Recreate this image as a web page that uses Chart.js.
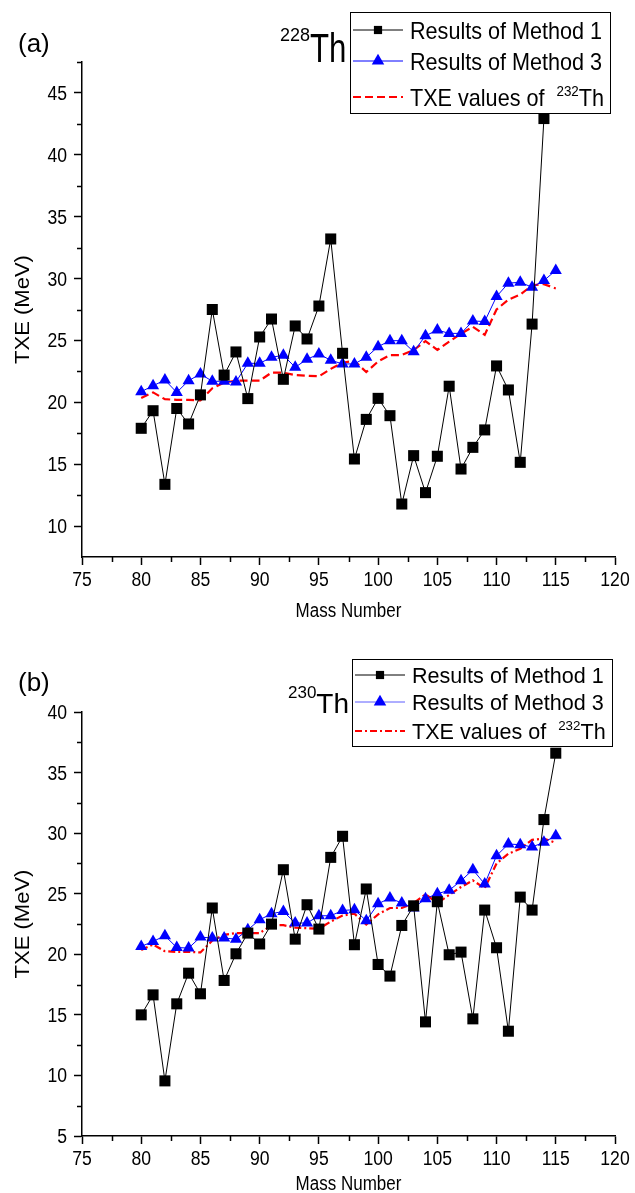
<!DOCTYPE html>
<html>
<head>
<meta charset="utf-8">
<script src="https://cdn.jsdelivr.net/npm/chart.js@4.4.1/dist/chart.umd.min.js"></script>
<style>
  html, body { margin: 0; padding: 0; background: #fff; }
  canvas { display: block; }
</style>
</head>
<body>
<canvas id="chartA" width="635" height="630"></canvas>
<canvas id="chartB" width="635" height="563"></canvas>
<script>
// Mass numbers (x values)
const massA1 = [80, 81, 82, 83, 84, 85, 86, 87, 88, 89, 90, 91, 92, 93, 94, 95, 96, 97,
  98, 99, 100, 101, 102, 103, 104, 105, 106, 107, 108, 109, 110, 111, 112, 113, 114];
const massAll = [80, 81, 82, 83, 84, 85, 86, 87, 88, 89, 90, 91, 92, 93, 94, 95, 96, 97,
  98, 99, 100, 101, 102, 103, 104, 105, 106, 107, 108, 109, 110, 111, 112, 113, 114, 115];

// (a) 228Th
const txeA_method1 = [17.9, 19.32, 13.37, 19.5, 18.25, 20.6, 27.5, 22.2, 24.07, 20.3, 25.28, 26.73,
  21.86, 26.17, 25.12, 27.78, 33.2, 23.96, 15.42, 18.62, 20.32, 18.92, 11.78, 15.69, 12.7, 15.64,
  21.3, 14.61, 16.36, 17.77, 22.94, 21.0, 15.15, 26.32, 42.93];
const txeA_method3 = [20.86, 21.34, 21.8, 20.8, 21.75, 22.29, 21.7, 21.7, 21.65, 23.15, 23.15, 23.64,
  23.8, 22.83, 23.48, 23.9, 23.4, 23.1, 23.1, 23.64, 24.5, 24.98, 24.98, 24.09, 25.38, 25.84,
  25.57, 25.57, 26.57, 26.53, 28.55, 29.63, 29.7, 29.3, 29.84, 30.66];

// (b) 230Th
const txeB_method1 = [15.0, 16.65, 9.55, 15.91, 18.44, 16.74, 23.82, 17.84, 20.04, 21.75, 20.85, 22.49,
  26.98, 21.25, 24.09, 22.08, 28.0, 29.74, 20.79, 25.39, 19.16, 18.2, 22.38, 24.0, 14.42, 24.34,
  19.96, 20.18, 14.67, 23.65, 20.54, 13.65, 24.72, 23.65, 31.12, 36.6];
const txeB_method3 = [20.65, 21.06, 21.53, 20.56, 20.51, 21.42, 21.34, 21.34, 21.25, 22.02, 22.85, 23.35,
  23.54, 22.58, 22.58, 23.18, 23.18, 23.62, 23.68, 22.77, 24.17, 24.64, 24.23, 23.82, 24.59, 25.0,
  25.28, 26.07, 26.98, 25.8, 28.14, 29.1, 29.05, 28.86, 29.24, 29.79];

// TXE of 232Th (reference curve, same in both panels)
const txe232 = [20.35, 20.8, 20.25, 20.2, 20.2, 20.15, 21.13, 21.6, 21.75, 21.75, 21.75, 22.4,
  22.4, 22.2, 22.15, 22.1, 22.7, 23.2, 23.35, 22.45, 23.3, 23.82, 23.82, 24.23, 24.95, 24.23,
  24.9, 25.55, 26.1, 25.45, 27.5, 28.3, 28.7, 29.45, 29.55, 29.2];

// tick values
const xMajor = [75, 80, 85, 90, 95, 100, 105, 110, 115, 120];
const xMinor = [77.5, 82.5, 87.5, 92.5, 97.5, 102.5, 107.5, 112.5, 117.5];
const yMajorA = [10, 15, 20, 25, 30, 35, 40, 45];
const yMinorA = [12.5, 17.5, 22.5, 27.5, 32.5, 37.5, 42.5, 47.5];
const yMajorB = [5, 10, 15, 20, 25, 30, 35, 40];
const yMinorB = [7.5, 12.5, 17.5, 22.5, 27.5, 32.5, 37.5];

const seriesLabels = ['Results of Method 1', 'Results of Method 3', 'TXE values of 232Th'];
const xTitle = 'Mass Number';
const yTitle = 'TXE (MeV)';

const FONT = "'Liberation Sans', Arial, sans-serif";

const toPoints = (xs, ys) => ys.map((y, i) => ({ x: xs[i], y: y }));

// text pieces: {t, size, rise, sx}; drawn left to right from x on baseline y
function drawRich(ctx, parts, x, y) {
  let cx = x;
  parts.forEach(p => {
    ctx.save();
    ctx.font = p.size + 'px ' + FONT;
    const sx = p.sx || 1;
    ctx.translate(cx, y - (p.rise || 0));
    ctx.scale(sx, 1);
    ctx.fillText(p.t, 0, 0);
    cx += ctx.measureText(p.t).width * sx;
    ctx.restore();
  });
}

function squeezedText(ctx, t, x, y, size, sx, align) {
  ctx.save();
  ctx.font = size + 'px ' + FONT;
  ctx.textAlign = align;
  ctx.translate(x, y);
  ctx.scale(sx, 1);
  ctx.fillText(t, 0, 0);
  ctx.restore();
}

const decoPlugin = {
  id: 'deco',
  afterDraw(chart, args, o) {
    const ctx = chart.ctx;
    const xs = chart.scales.x, ys = chart.scales.y;
    ctx.save();
    ctx.strokeStyle = '#000';
    ctx.fillStyle = '#000';
    ctx.lineWidth = 1.5;
    ctx.textBaseline = 'alphabetic';

    // minor ticks
    ctx.beginPath();
    o.xMinor.forEach(v => {
      const px = Math.round(xs.getPixelForValue(v)) + 0.5;
      ctx.moveTo(px, xs.top);
      ctx.lineTo(px, xs.top + 5);
    });
    o.yMinor.forEach(v => {
      const py = Math.round(ys.getPixelForValue(v)) + 0.5;
      ctx.moveTo(ys.right - 5, py);
      ctx.lineTo(ys.right, py);
    });
    ctx.stroke();

    // tick labels (narrow face, as in the original figure)
    xMajor.forEach(v => {
      squeezedText(ctx, String(v), xs.getPixelForValue(v), xs.top + 29, 20, 0.88, 'center');
    });
    o.yMajor.forEach(v => {
      squeezedText(ctx, String(v), ys.right - 15, ys.getPixelForValue(v) + 7, 20, 0.88, 'right');
    });

    // axis titles
    squeezedText(ctx, xTitle, (chart.chartArea.left + chart.chartArea.right) / 2, o.xTitleY, 20, 0.85, 'center');
    ctx.save();
    ctx.font = '22px ' + FONT;
    ctx.textAlign = 'center';
    ctx.translate(29, (chart.chartArea.top + chart.chartArea.bottom) / 2);
    ctx.rotate(-Math.PI / 2);
    ctx.scale(1, 0.92);
    ctx.fillText(yTitle, 0, 0);
    ctx.restore();

    // panel letter and nucleus
    drawRich(ctx, [{ t: o.panel, size: 26 }], 18, o.panelY);
    drawRich(ctx, o.nucleus, o.nucPos[0], o.nucPos[1]);

    // legend box
    const L = o.legend;
    ctx.lineWidth = 1;
    ctx.fillStyle = '#fff';
    ctx.fillRect(L.box[0], L.box[1], L.box[2], L.box[3]);
    ctx.strokeRect(L.box[0] + 0.5, L.box[1] + 0.5, L.box[2], L.box[3]);

    chart.data.datasets.forEach((ds, i) => {
      const ly = L.rows[i];
      ctx.save();
      ctx.strokeStyle = L.lineColors[i] || ds.borderColor;
      ctx.lineWidth = ds.borderWidth;
      ctx.setLineDash(ds.borderDash || []);
      ctx.beginPath();
      ctx.moveTo(L.lineX[0], ly);
      ctx.lineTo(L.lineX[1], ly);
      ctx.stroke();
      ctx.restore();
      if (ds.pointRadius > 0) {
        ctx.save();
        ctx.fillStyle = ds.pointBackgroundColor;
        ctx.strokeStyle = ds.pointBackgroundColor;
        Chart.helpers.drawPoint(ctx, {
          pointStyle: ds.pointStyle,
          radius: ds.pointStyle === 'rect' ? 5.8 : 7.2,
          rotation: 0,
          borderWidth: 0
        }, (L.lineX[0] + L.lineX[1]) / 2, ly);
        ctx.restore();
      }
      ctx.fillStyle = '#000';
      const lbl = ds.label;
      const parts = lbl.indexOf('232Th') > 0
        ? [{ t: 'TXE values of  ', size: L.size, sx: L.sx },
           { t: '232', size: L.size * 0.62, rise: L.size * 0.4, sx: L.sx },
           { t: 'Th', size: L.size, sx: L.sx }]
        : [{ t: lbl, size: L.size, sx: L.sx }];
      drawRich(ctx, parts, L.textX, ly + L.size * 0.36);
    });
    ctx.restore();
  }
};

function makeChart(id, m1x, m1, m3, yMin, yMax, padTop, xHeight, deco, refDash) {
  const yMajor = deco.yMajor;
  return new Chart(document.getElementById(id), {
    type: 'line',
    data: {
      datasets: [
        {
          label: seriesLabels[0],
          data: toPoints(m1x, m1),
          borderColor: '#000',
          borderWidth: 1,
          pointStyle: 'rect',
          pointRadius: 7.8,
          pointBackgroundColor: '#000',
          pointBorderWidth: 0,
          tension: 0
        },
        {
          label: seriesLabels[1],
          data: toPoints(massAll, m3),
          borderColor: '#0000ff',
          borderWidth: 1,
          pointStyle: 'triangle',
          pointRadius: 7,
          pointBackgroundColor: '#0000ff',
          pointBorderWidth: 0,
          tension: 0
        },
        {
          label: seriesLabels[2],
          data: toPoints(massAll, txe232),
          borderColor: '#ff0000',
          borderWidth: 2.2,
          borderDash: refDash,
          pointRadius: 0,
          tension: 0
        }
      ]
    },
    options: {
      responsive: false,
      animation: false,
      devicePixelRatio: 1,
      layout: { padding: { top: padTop, right: 20, left: 0, bottom: 0 } },
      plugins: { legend: { display: false }, tooltip: { enabled: false }, deco: deco },
      scales: {
        x: {
          type: 'linear',
          min: 75, max: 120,
          afterBuildTicks: s => { s.ticks = xMajor.map(v => ({ value: v })); },
          afterFit: s => { s.height = xHeight; },
          grid: { drawOnChartArea: false, drawTicks: true, tickLength: 8, tickWidth: 1.5, tickColor: '#000' },
          border: { display: true, color: '#000', width: 1.5 },
          ticks: { display: false }
        },
        y: {
          min: yMin, max: yMax,
          afterBuildTicks: s => { s.ticks = yMajor.map(v => ({ value: v })); },
          afterFit: s => { s.width = 82; },
          grid: { drawOnChartArea: false, drawTicks: true, tickLength: 8, tickWidth: 1.5, tickColor: '#000' },
          border: { display: true, color: '#000', width: 1.5 },
          ticks: { display: false }
        }
      }
    },
    plugins: [decoPlugin]
  });
}

makeChart('chartA', massA1, txeA_method1, txeA_method3, 7.5, 47.5, 62, 73, {
  xMinor: xMinor, yMinor: yMinorA, yMajor: yMajorA, xTitleY: 617,
  panel: '(a)', panelY: 52,
  nucleus: [{ t: '228', size: 18, rise: 21 }, { t: 'Th', size: 40, sx: 0.78 }], nucPos: [280, 62],
  legend: {
    box: [350, 12, 260, 101], rows: [30, 61, 97], lineX: [353, 403], textX: 410,
    size: 24, sx: 0.9, lineColors: []
  }
}, [8, 4]);

makeChart('chartB', massAll, txeB_method1, txeB_method3, 5, 40, 82, 57, {
  xMinor: xMinor, yMinor: yMinorB, yMajor: yMajorB, xTitleY: 560,
  panel: '(b)', panelY: 61,
  nucleus: [{ t: '230', size: 17, rise: 15 }, { t: 'Th', size: 28 }], nucPos: [288, 83],
  legend: {
    box: [352, 29, 260, 87], rows: [45, 72, 101], lineX: [355, 405], textX: 412,
    size: 22, sx: 0.98, lineColors: ['', '#5c5cff', '']
  }
}, [7, 3, 2, 3]);
</script>
</body>
</html>
